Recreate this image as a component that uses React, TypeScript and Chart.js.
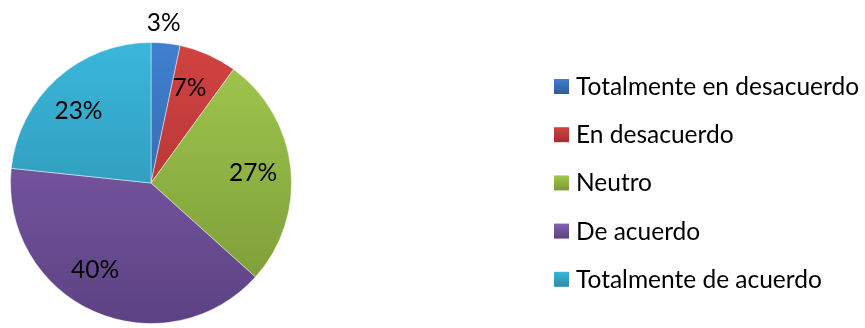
import React, { useEffect, useRef } from 'react';
import { Chart, registerables } from 'chart.js';

Chart.register(...registerables);

const categories = [
  'Totalmente en desacuerdo',
  'En desacuerdo',
  'Neutro',
  'De acuerdo',
  'Totalmente de acuerdo',
];
const counts = [1, 2, 8, 12, 7];

const topColors = ['#3F80D0', '#D24242', '#A2C84F', '#8461B2', '#39B7DB'];
const bottomColors = ['#2D5C94', '#A0302E', '#789835', '#5C4282', '#2A8AA5'];
const labelAngleShift = [-1.5, -2, 0, 9, -3];

const FONT = 'Lato, "Open Sans", sans-serif';
const FONT_SIZE = 24.5;

const total = counts.reduce((a, b) => a + b, 0);
const pctText = (v: number) => Math.round((v / total) * 100) + '%';

const labelPlugin = {
  id: 'pieLabels',
  afterDatasetsDraw(chart: any) {
    const ctx = chart.ctx as CanvasRenderingContext2D;
    const meta = chart.getDatasetMeta(0);
    ctx.save();
    ctx.font = `${FONT_SIZE}px ${FONT}`;
    ctx.fillStyle = '#000';
    ctx.textAlign = 'center';
    ctx.textBaseline = 'alphabetic';
    meta.data.forEach((arc: any, i: number) => {
      const p = arc.getProps(['x', 'y', 'startAngle', 'endAngle', 'outerRadius'], true);
      const v = counts[i];
      const pct = (v / total) * 100;
      const mid = (p.startAngle + p.endAngle) / 2 + (labelAngleShift[i] * Math.PI) / 180;
      const r = pct < 5 ? p.outerRadius + 20 : p.outerRadius * 0.73;
      const x = p.x + Math.cos(mid) * r;
      const y = p.y + Math.sin(mid) * r;
      ctx.fillText(pctText(v), x, y + 8.5);
    });
    ctx.restore();
  },
};

const legendPlugin = {
  id: 'sideLegend',
  afterDraw(chart: any) {
    const ctx = chart.ctx as CanvasRenderingContext2D;
    ctx.save();
    ctx.font = `${FONT_SIZE}px ${FONT}`;
    ctx.textAlign = 'left';
    ctx.textBaseline = 'alphabetic';
    const x0 = 554;
    const y0 = 86.5;
    const step = 48.2;
    categories.forEach((name, i) => {
      const cy = y0 + i * step;
      const g = ctx.createLinearGradient(0, cy - 7.5, 0, cy + 7.5);
      g.addColorStop(0, topColors[i]);
      g.addColorStop(1, bottomColors[i]);
      ctx.fillStyle = g;
      ctx.fillRect(x0, cy - 7.5, 15, 15);
      ctx.fillStyle = '#000';
      ctx.fillText(name, x0 + 22, cy + 8.5);
    });
    ctx.restore();
  },
};

export default function App() {
  const ref = useRef<HTMLCanvasElement | null>(null);
  useEffect(() => {
    if (!ref.current) return;
    const chart = new Chart(ref.current, {
      type: 'pie',
      data: {
        labels: categories,
        datasets: [
          {
            data: counts,
            backgroundColor: (c: any) => {
              const ch = c.chart;
              const area = ch.chartArea;
              const i = c.dataIndex ?? 0;
              if (!area) return topColors[i];
              const g = ch.ctx.createLinearGradient(0, area.top, 0, area.bottom);
              g.addColorStop(0, topColors[i]);
              g.addColorStop(1, bottomColors[i]);
              return g;
            },
            borderColor: 'rgba(255,255,255,0.45)',
            borderWidth: 1,
          },
        ],
      },
      options: {
        responsive: false,
        animation: false,
        layout: { padding: { left: 10, top: 42, right: 573, bottom: 4 } },
        plugins: {
          legend: { display: false },
          tooltip: { enabled: false },
        },
      },
      plugins: [labelPlugin, legendPlugin],
    });
    return () => chart.destroy();
  }, []);
  return (
    <div style={{ position: 'absolute', left: 0, top: 0, width: 865, height: 328, background: '#fff' }}>
      <canvas ref={ref} width={865} height={328} style={{ width: 865, height: 328 }} />
    </div>
  );
}
